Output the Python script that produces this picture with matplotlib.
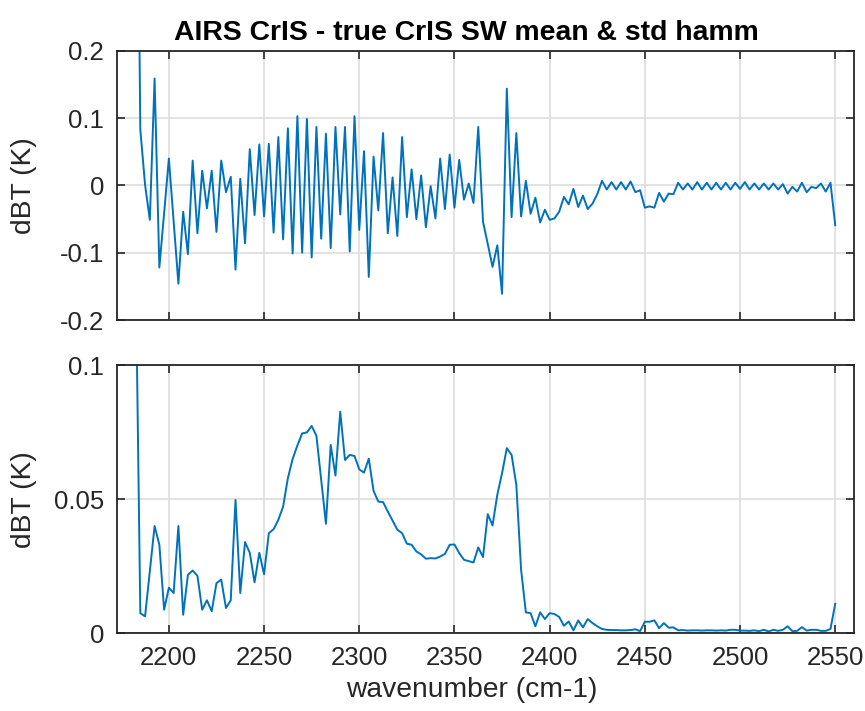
import numpy as np
import matplotlib
matplotlib.use("Agg")
import matplotlib.pyplot as plt

# channel grid (cm-1), 2.5 cm-1 spacing
wn_start = 2182.5
wn_step = 2.5

# mean dBT (K), AIRS CrIS - true CrIS
dbt_mean = [
    0.8, 0.083, 0.001, -0.051, 0.159, -0.122, -0.041, 0.040, -0.054, -0.146,      # 2182.5 - 2205
    -0.039, -0.102, 0.037, -0.071, 0.022, -0.034, 0.022, -0.069, 0.037, -0.010,   # 2207.5 - 2230
    0.013, -0.125, 0.010, -0.086, 0.054, -0.044, 0.061, -0.046, 0.062, -0.070,    # 2232.5 - 2255
    0.072, -0.080, 0.085, -0.101, 0.103, -0.100, 0.099, -0.107, 0.087, -0.079,    # 2257.5 - 2280
    0.077, -0.093, 0.087, -0.043, 0.087, -0.098, 0.103, -0.066, 0.051, -0.136,    # 2282.5 - 2305
    0.043, -0.037, 0.078, -0.071, 0.012, -0.075, 0.072, -0.047, 0.024, -0.050,    # 2307.5 - 2330
    0.015, -0.062, -0.001, -0.049, 0.040, -0.035, 0.046, -0.033, 0.038, -0.021,   # 2332.5 - 2355
    0.003, -0.026, 0.087, -0.054, -0.087, -0.121, -0.089, -0.161, 0.144, -0.047,  # 2357.5 - 2380
    0.078, -0.046, 0.007, -0.042, -0.018, -0.055, -0.036, -0.051, -0.049, -0.039, # 2382.5 - 2405
    -0.017, -0.028, -0.005, -0.032, -0.015, -0.035, -0.027, -0.013, 0.007, -0.006, # 2407.5 - 2430
    0.005, -0.006, 0.005, -0.006, 0.006, -0.010, -0.007, -0.033, -0.031, -0.033,  # 2432.5 - 2455
    -0.011, -0.024, -0.012, -0.013, 0.004, -0.006, 0.003, -0.006, 0.005, -0.006,  # 2457.5 - 2480
    0.004, -0.006, 0.004, -0.006, 0.004, -0.006, 0.004, -0.005, 0.005, -0.006,    # 2482.5 - 2505
    0.003, -0.006, 0.003, -0.006, 0.003, -0.006, 0.002, -0.012, -0.002, -0.009,   # 2507.5 - 2530
    0.004, -0.010, -0.002, -0.004, 0.003, -0.009, 0.004, -0.059,                  # 2532.5 - 2550
]

# std dBT (K)
dbt_std = [
    0.14, 0.0075, 0.0063, 0.023, 0.040, 0.033, 0.0088, 0.017, 0.015, 0.040,           # 2182.5 - 2205
    0.0069, 0.0218, 0.0234, 0.0214, 0.0088, 0.0123, 0.0082, 0.0187, 0.020, 0.0094,    # 2207.5 - 2230
    0.0123, 0.0497, 0.015, 0.034, 0.030, 0.019, 0.030, 0.022, 0.0373, 0.0388,         # 2232.5 - 2255
    0.0423, 0.0472, 0.0578, 0.0650, 0.0700, 0.0745, 0.0749, 0.0773, 0.0736, 0.0572,   # 2257.5 - 2280
    0.0408, 0.0702, 0.0588, 0.0826, 0.0646, 0.0665, 0.0661, 0.0611, 0.0599, 0.0651,   # 2282.5 - 2305
    0.0531, 0.0491, 0.0489, 0.0454, 0.0420, 0.0386, 0.0373, 0.0334, 0.0330, 0.0305,   # 2307.5 - 2330
    0.0294, 0.0278, 0.0280, 0.0279, 0.0286, 0.0296, 0.0330, 0.0331, 0.0299, 0.0274,   # 2332.5 - 2355
    0.0269, 0.0264, 0.0320, 0.0284, 0.0444, 0.0402, 0.0516, 0.0597, 0.0690, 0.0665,   # 2357.5 - 2380
    0.0553, 0.0237, 0.0078, 0.0075, 0.0026, 0.0078, 0.0053, 0.0075, 0.0072, 0.0061,   # 2382.5 - 2405
    0.0028, 0.0044, 0.0011, 0.0048, 0.0022, 0.0053, 0.0038, 0.0026, 0.0016, 0.0013,   # 2407.5 - 2430
    0.0012, 0.0012, 0.0011, 0.0011, 0.0012, 0.0015, 0.0008, 0.0043, 0.0043, 0.0048,   # 2432.5 - 2455
    0.0019, 0.0038, 0.0021, 0.0022, 0.0011, 0.0012, 0.0010, 0.0011, 0.0011, 0.0010,   # 2457.5 - 2480
    0.0011, 0.0011, 0.0010, 0.0011, 0.0010, 0.0013, 0.0013, 0.0010, 0.0010, 0.0009,   # 2482.5 - 2505
    0.0011, 0.0008, 0.0013, 0.0007, 0.0013, 0.0009, 0.0013, 0.0026, 0.0008, 0.0009,   # 2507.5 - 2530
    0.0023, 0.0010, 0.0013, 0.0013, 0.0009, 0.0009, 0.0016, 0.0110,                   # 2532.5 - 2550
]

x_ticks = [2200, 2250, 2300, 2350, 2400, 2450, 2500, 2550]
mean_ticks = [-0.2, -0.1, 0, 0.1, 0.2]
mean_ticklabels = ['-0.2', '-0.1', '0', '0.1', '0.2']
std_ticks = [0, 0.05, 0.1]
std_ticklabels = ['0', '0.05', '0.1']

wn_mean = wn_start + wn_step * np.arange(len(dbt_mean))
wn_std = wn_start + wn_step * np.arange(len(dbt_std))

plt.rcParams['font.family'] = ['Liberation Sans', 'DejaVu Sans']
txt = '#262626'
linecolor = '#0072BD'
tick_fs = 18.5
label_fs = 20.3

fig = plt.figure(figsize=(8.65, 7.11), dpi=100)
ax1 = fig.add_axes([0.1347, 0.5499, 0.8529, 0.3784])
ax2 = fig.add_axes([0.1347, 0.1093, 0.8529, 0.3773])


def style(ax):
    ax.set_axisbelow(True)
    ax.grid(True, color='#dfdfdf', linewidth=1.3)
    ax.tick_params(direction='in', top=True, right=True, length=5.5, width=1.2,
                   colors=txt, labelsize=tick_fs, pad=9)
    for s in ax.spines.values():
        s.set_color(txt)
        s.set_linewidth(1.3)
    ax.set_xlim(2172.5, 2560)
    ax.set_xticks(x_ticks)


ax1.plot(wn_mean, dbt_mean, color=linecolor, linewidth=1.4)
style(ax1)
ax1.set_ylim(-0.2, 0.2)
ax1.set_yticks(mean_ticks)
ax1.set_yticklabels(mean_ticklabels)
ax1.set_xticklabels([])
ax1.set_ylabel('dBT (K)', fontsize=label_fs, color=txt)
ax1.yaxis.set_label_coords(-0.108, 0.5)
ax1.set_title('AIRS CrIS - true CrIS SW mean & std hamm', fontsize=20.4,
              fontweight='bold', color='black', pad=8, x=0.4746)

ax2.plot(wn_std, dbt_std, color=linecolor, linewidth=1.4)
style(ax2)
ax2.set_ylim(0, 0.1)
ax2.set_yticks(std_ticks)
ax2.set_yticklabels(std_ticklabels)
ax2.set_xticklabels([str(t) for t in x_ticks])
ax2.set_ylabel('dBT (K)', fontsize=label_fs, color=txt)
ax2.yaxis.set_label_coords(-0.108, 0.5)
ax2.set_xlabel('wavenumber (cm-1)', fontsize=label_fs, color=txt)
ax2.xaxis.set_label_coords(0.482, -0.163)

fig.savefig('out.png', dpi=100)
